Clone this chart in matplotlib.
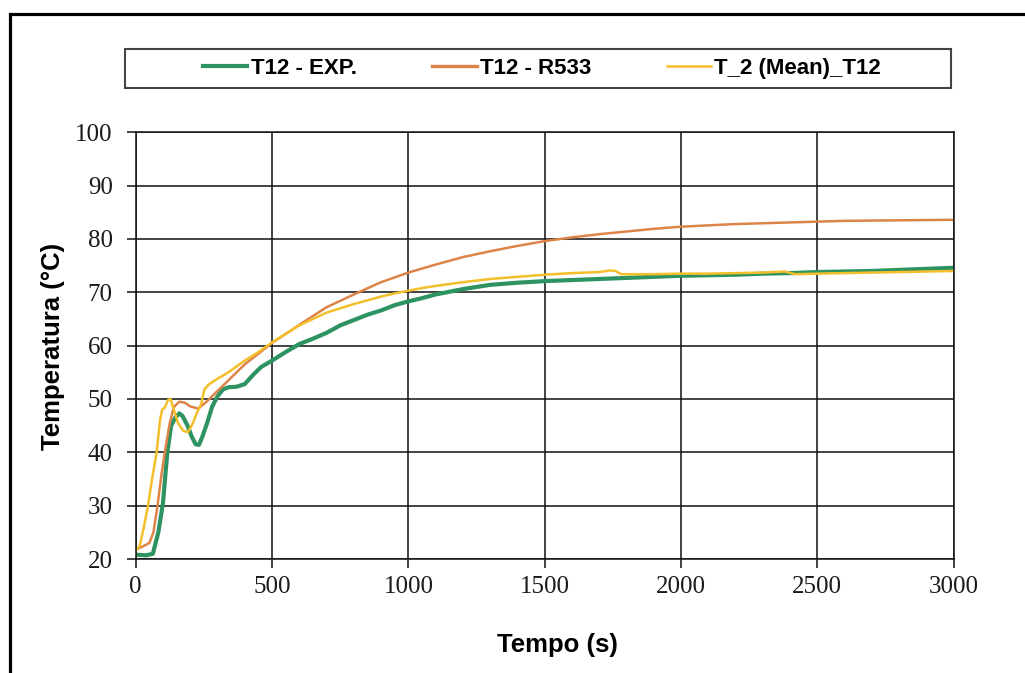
import matplotlib
matplotlib.use("Agg")
import matplotlib.pyplot as plt
from matplotlib.patches import Rectangle

# ---- data ----
t_exp = [0, 40, 63, 83, 100, 116, 130, 145, 160, 172, 190, 205, 220, 232, 245, 262, 280, 300,
         320, 340, 370, 400, 430, 460, 500, 550, 600, 650, 700, 750, 800, 850, 900, 950, 1000,
         1050, 1100, 1150, 1200, 1300, 1400, 1500, 1600, 1700, 1800, 1900, 2000, 2100, 2200,
         2300, 2400, 2500, 2600, 2700, 2800, 2900, 3000]
T_exp = [20.8, 20.7, 21.0, 25.0, 30.5, 40.0, 45.0, 46.5, 47.3, 46.8, 45.0, 43.0, 41.5, 41.4,
         43.0, 45.5, 48.5, 50.5, 51.8, 52.2, 52.3, 52.8, 54.5, 56.0, 57.2, 58.8, 60.3, 61.3,
         62.4, 63.8, 64.8, 65.8, 66.6, 67.6, 68.3, 68.9, 69.6, 70.1, 70.6, 71.4, 71.8, 72.1,
         72.3, 72.5, 72.7, 72.9, 73.1, 73.2, 73.3, 73.5, 73.6, 73.8, 73.9, 74.0, 74.2, 74.4,
         74.6]

t_r533 = [0, 20, 50, 65, 80, 95, 110, 125, 140, 160, 180, 200, 230, 260, 290, 330, 400, 500,
          600, 700, 800, 900, 1000, 1100, 1200, 1300, 1400, 1500, 1600, 1700, 1800, 1900, 2000,
          2200, 2400, 2600, 2800, 3000]
T_r533 = [21.8, 22.2, 23.0, 25.0, 30.0, 36.0, 41.0, 45.5, 48.5, 49.5, 49.3, 48.6, 48.2, 49.5,
          51.0, 53.0, 56.5, 60.5, 63.9, 67.2, 69.6, 71.9, 73.7, 75.2, 76.6, 77.7, 78.7, 79.6,
          80.3, 80.9, 81.4, 81.9, 82.3, 82.8, 83.1, 83.4, 83.5, 83.6]

t_mean = [0, 15, 30, 45, 60, 77, 89, 97, 107, 118, 128, 140, 155, 175, 192, 210, 225, 240, 252,
          270, 300, 340, 400, 450, 500, 550, 600, 650, 700, 750, 800, 850, 900, 950, 1000, 1050,
          1100, 1200, 1300, 1400, 1500, 1600, 1700, 1740, 1760, 1780, 1900, 2000, 2100, 2200,
          2300, 2380, 2420, 2500, 2600, 2700, 2800, 2900, 3000]
T_mean = [21.5, 22.5, 26.0, 30.0, 35.0, 40.0, 46.0, 48.0, 48.4, 49.8, 50.0, 48.0, 45.5, 44.0,
          43.8, 45.5, 47.5, 49.0, 51.8, 52.8, 53.8, 55.0, 57.2, 58.8, 60.6, 62.2, 63.8, 65.0,
          66.2, 67.0, 67.8, 68.5, 69.2, 69.8, 70.3, 70.8, 71.2, 71.9, 72.5, 72.9, 73.3, 73.6,
          73.8, 74.1, 74.0, 73.4, 73.4, 73.5, 73.5, 73.6, 73.7, 73.9, 73.4, 73.5, 73.6, 73.7,
          73.8, 73.9, 74.0]

labels = ["T12 - EXP.", "T12 - R533", "T_2 (Mean)_T12"]
colors = ["#2d9360", "#dd8449", "#f3bf2a"]
widths = [3.0, 1.8, 1.8]
xticks = [0, 500, 1000, 1500, 2000, 2500, 3000]
yticks = [20, 30, 40, 50, 60, 70, 80, 90, 100]
xlabel = "Tempo (s)"
ylabel = "Temperatura (°C)"

# ---- figure ----
W, H = 1025, 673
fig = plt.figure(figsize=(W / 100, H / 100), dpi=100)
fig.patch.set_facecolor("white")

ax = fig.add_axes([135.7 / W, 1 - 559 / H, 818 / W, 426.7 / H])
series = [(t_exp, T_exp), (t_r533, T_r533), (t_mean, T_mean)]
handles = []
for (tx, ty), lab, c, lw in zip(series, labels, colors, widths):
    h, = ax.plot(tx, ty, color=c, lw=lw, label=lab, solid_joinstyle="round")
    handles.append(h)

ax.set_xlim(0, 3000)
ax.set_ylim(20, 100)
ax.set_xticks(xticks)
ax.set_yticks(yticks)
ax.grid(True, color="#111111", lw=1.1)
ax.set_axisbelow(True)
for s in ax.spines.values():
    s.set_color("#111111")
    s.set_linewidth(1.1)
ax.tick_params(direction="out", length=6.5, width=1.1, color="#111111",
               labelsize=18, labelcolor="#1a1a1a")
ax.tick_params(axis="x", pad=6)
ax.tick_params(axis="y", pad=10)
for lab in ax.get_xticklabels() + ax.get_yticklabels():
    lab.set_fontfamily("Liberation Serif")

# axis labels
fig.text(557 / W, 1 - 652 / H, xlabel, ha="center", va="baseline",
         fontsize=18.5, fontweight="bold", family="Liberation Sans")
fig.text(60 / W, 1 - 346 / H, ylabel, ha="center", va="baseline", rotation=90,
         rotation_mode="anchor", fontsize=18.5, fontweight="bold", family="Liberation Sans")

# legend
leg = fig.legend(handles=handles, labels=labels, loc="center",
                 bbox_to_anchor=(542 / W, 1 - 68.5 / H), ncol=3, frameon=False,
                 prop={"family": "Liberation Sans", "weight": "bold", "size": 16},
                 handlelength=2.0, handletextpad=0.15, columnspacing=3.4)
leg_lws = [3.0, 2.4, 1.8]
for lh, lw in zip(leg.legend_handles, leg_lws):
    lh.set_linewidth(lw)

fig.add_artist(Rectangle((125 / W, 1 - 88 / H), 826 / W, 39 / H, transform=fig.transFigure,
                         fill=False, edgecolor="#444444", lw=1.5))
# outer frame (right/bottom run past the picture edge)
top = 1 - 13.5 / H
fig.add_artist(Rectangle((9.5 / W, -0.2), 1.5, top + 0.2, transform=fig.transFigure,
                         fill=False, edgecolor="black", lw=2.3, clip_on=False))

fig.savefig("out.png", dpi=100)
